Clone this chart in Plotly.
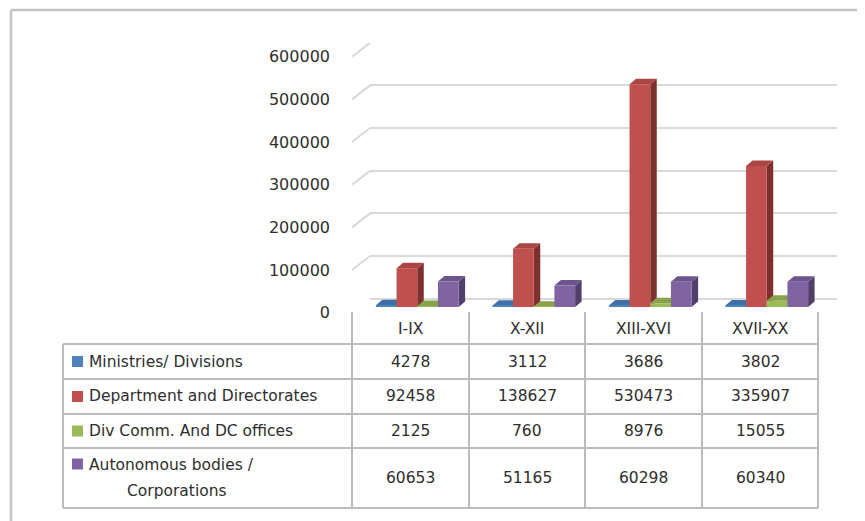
import plotly.graph_objects as go

# ---------------- data ----------------
categories = ["I-IX", "X-XII", "XIII-XVI", "XVII-XX"]
series_names = ["Ministries/ Divisions", "Department and Directorates",
                "Div Comm. And DC offices", "Autonomous bodies /<br>Corporations"]
ministries = [4278, 3112, 3686, 3802]
departments = [92458, 138627, 530473, 335907]
div_comm = [2125, 760, 8976, 15055]
autonomous = [60653, 51165, 60298, 60340]
y_ticks = [0, 100000, 200000, 300000, 400000, 500000, 600000]

series_values = [ministries, departments, div_comm, autonomous]

front_colors = ["#4F81BD", "#C0504D", "#9BBB59", "#8064A2"]
top_colors = ["#3F6FA8", "#A94542", "#86A34B", "#6C548C"]
side_colors = ["#2E5686", "#7E302E", "#67802F", "#51406C"]

# ---------------- geometry (pixels, page coordinates) ----------------
W, H = 865, 521
OFF = 8          # page body margin of the html page
FONT = "DejaVu Sans"
FS = 15.5
TXT = "#2e2e2e"
GRID = "#d9d9d9"
LINE = "#bcbcbc"


def px(x):
    return (x - OFF) / W


def py(y):
    return (H - (y - OFF)) / H


# back wall (gridlines) and front plane offsets
BACK_L, BACK_R, BACK_T, BACK_B = 370, 837, 42.7, 298.7
DIAG_DX, DIAG_DY = -18, 14
# bar plane
BAR_L, BAR_R, BAR_T, BAR_B = 359, 825, 55, 307
YMAX = 600000
bargap = 0.29
nser = len(series_values)
bw = (1 - bargap) / nser
depth_dx = 6.5 / ((BAR_R - BAR_L) / len(categories))
depth_dy = 5.5 / ((BAR_B - BAR_T) / YMAX)

fig = go.Figure()

# invisible trace to create the back-wall subplot
fig.add_trace(go.Scatter(x=[None], y=[None], xaxis="x", yaxis="y",
                         showlegend=False, hoverinfo="skip"))

xs = list(range(len(categories)))
for i, (name, vals) in enumerate(zip(series_names, series_values)):
    fig.add_trace(go.Bar(
        x=xs, y=vals, name=name.replace("<br>", " "), xaxis="x2", yaxis="y2",
        marker=dict(color=front_colors[i], line=dict(width=0)),
        showlegend=False,
    ))

shapes = []
# 3D top and side faces of each bar
for i, vals in enumerate(series_values):
    for j, v in enumerate(vals):
        xl = j - (1 - bargap) / 2 + i * bw
        xr = xl + bw
        side = (f"M{xr},0 L{xr + depth_dx},{depth_dy} L{xr + depth_dx},{v + depth_dy} "
                f"L{xr},{v} Z")
        top = (f"M{xl},{v} L{xl + depth_dx},{v + depth_dy} L{xr + depth_dx},{v + depth_dy} "
               f"L{xr},{v} Z")
        shapes.append(dict(type="path", path=side, xref="x2", yref="y2",
                           fillcolor=side_colors[i], line=dict(width=0), layer="between"))
        shapes.append(dict(type="path", path=top, xref="x2", yref="y2",
                           fillcolor=top_colors[i], line=dict(width=0), layer="between"))

# side-wall diagonals of the gridlines
back_scale = (BACK_B - BACK_T) / YMAX
for t in y_ticks:
    shapes.append(dict(type="line", xref="paper", yref="y",
                       x0=px(BACK_L), y0=t, x1=px(BACK_L + DIAG_DX), y1=t - DIAG_DY / back_scale,
                       line=dict(color=GRID, width=2), layer="below"))

# outer chart border
shapes.append(dict(type="line", xref="paper", yref="paper", x0=px(11), x1=1.02,
                   y0=py(10), y1=py(10), line=dict(color="#c4c4c4", width=2.5)))
shapes.append(dict(type="line", xref="paper", yref="paper", x0=px(11), x1=px(11),
                   y0=py(10), y1=-0.02, line=dict(color="#c4c4c4", width=2.5)))

# ---------------- data table ----------------
TBL_L = 63
col_x = [352, 469, 585, 702, 818]
HDR_T = 312
row_y = [344, 379, 414, 448, 508]

for y in row_y:
    shapes.append(dict(type="line", xref="paper", yref="paper",
                       x0=px(TBL_L), x1=px(col_x[-1]), y0=py(y), y1=py(y),
                       line=dict(color=LINE, width=2)))
shapes.append(dict(type="line", xref="paper", yref="paper",
                   x0=px(TBL_L), x1=px(TBL_L), y0=py(row_y[0]), y1=py(row_y[-1]),
                   line=dict(color=LINE, width=2)))
for x in col_x:
    shapes.append(dict(type="line", xref="paper", yref="paper",
                       x0=px(x), x1=px(x), y0=py(HDR_T), y1=py(row_y[-1]),
                       line=dict(color=LINE, width=2)))

annotations = []
for j, c in enumerate(categories):
    annotations.append(dict(text=c, xref="paper", yref="paper",
                            x=px((col_x[j] + col_x[j + 1]) / 2), y=py((HDR_T + row_y[0]) / 2 + 1),
                            xanchor="center", yanchor="middle", showarrow=False,
                            font=dict(family=FONT, size=FS, color=TXT)))

for i, (name, vals) in enumerate(zip(series_names, series_values)):
    yc = (row_y[i] + row_y[i + 1]) / 2
    lines = name.split("<br>")
    if len(lines) == 1:
        key_y = yc
        annotations.append(dict(text=name, xref="paper", yref="paper",
                                x=px(87), y=py(yc), xanchor="left", yanchor="middle",
                                showarrow=False, font=dict(family=FONT, size=FS, color=TXT)))
    else:
        key_y = yc - 14
        annotations.append(dict(text=lines[0], xref="paper", yref="paper",
                                x=px(87), y=py(yc - 13), xanchor="left", yanchor="middle",
                                showarrow=False, font=dict(family=FONT, size=FS, color=TXT)))
        annotations.append(dict(text=lines[1], xref="paper", yref="paper",
                                x=px(177), y=py(yc + 13), xanchor="center", yanchor="middle",
                                showarrow=False, font=dict(family=FONT, size=FS, color=TXT)))
    shapes.append(dict(type="rect", xref="paper", yref="paper",
                       x0=px(72), x1=px(83), y0=py(key_y - 5.5), y1=py(key_y + 5.5),
                       fillcolor=front_colors[i], line=dict(width=0)))
    for j, v in enumerate(vals):
        annotations.append(dict(text=str(v), xref="paper", yref="paper",
                                x=px((col_x[j] + col_x[j + 1]) / 2), y=py(yc),
                                xanchor="center", yanchor="middle", showarrow=False,
                                font=dict(family=FONT, size=FS, color=TXT)))

fig.update_layout(
    width=W, height=H, autosize=False,
    margin=dict(l=0, r=0, t=0, b=0, pad=0),
    paper_bgcolor="white", plot_bgcolor="rgba(0,0,0,0)",
    barmode="group", bargap=bargap, bargroupgap=0,
    xaxis=dict(domain=[px(BACK_L), px(BACK_R)], range=[0, 1], visible=False,
               fixedrange=True, automargin=False),
    yaxis=dict(domain=[py(BACK_B), py(BACK_T)], range=[0, YMAX],
               tickvals=y_ticks, ticktext=[str(t) for t in y_ticks],
               showgrid=True, gridcolor=GRID, gridwidth=2,
               zeroline=True, zerolinecolor=GRID, zerolinewidth=2,
               showline=False, ticks="", automargin=False,
               ticklabelshift=DIAG_DY, ticklabelstandoff=39,
               tickfont=dict(family=FONT, size=16, color=TXT), fixedrange=True),
    xaxis2=dict(domain=[px(BAR_L), px(BAR_R)], range=[-0.5, len(categories) - 0.5],
                anchor="y2", visible=False, fixedrange=True, automargin=False),
    yaxis2=dict(domain=[py(BAR_B), py(BAR_T)], range=[0, YMAX], anchor="x2",
                visible=False, fixedrange=True, automargin=False),
    shapes=shapes,
    annotations=annotations,
    showlegend=False,
)

fig.write_html("out.html", config={"displayModeBar": False})
